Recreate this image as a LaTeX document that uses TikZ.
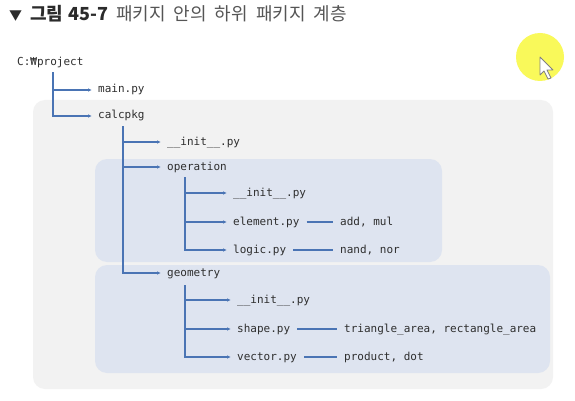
\documentclass[tikz,border=0pt]{standalone}
\usepackage{fontspec}
\setmonofont{DejaVu Sans Mono}
\newfontfamily\krfont{Noto Sans CJK KR}
\usetikzlibrary{arrows.meta,positioning}

\definecolor{treeblue}{HTML}{4A74B4}
\definecolor{textgray}{HTML}{2E2E2E}
\definecolor{titledark}{HTML}{2B2B2B}
\definecolor{titlegray}{HTML}{555555}
\definecolor{outerfill}{HTML}{F2F2F2}
\definecolor{panelfill}{HTML}{DEE4F0}
\definecolor{markyellow}{HTML}{F9F95A}

\newcommand{\titlegap}{\hspace{8pt}}

\tikzset{
  file/.style={anchor=west, inner sep=1pt, text=textgray,
    font=\ttfamily\fontsize{11}{13}\selectfont, text height=8pt, text depth=2pt},
  branch/.style={draw=treeblue, line width=1.2pt,
    -{Latex[length=4pt,width=3.5pt]}, shorten >=5pt},
  link/.style={draw=treeblue, line width=1.2pt, shorten <=6pt, shorten >=6pt},
  panel/.style={rounded corners=12pt}
}

\begin{document}
\begin{tikzpicture}[x=1pt, y=-1pt]
    \useasboundingbox (0,0) rectangle (575,401);
    \fill[white] (0,0) rectangle (575,401);

    % title
    \node[anchor=west, inner sep=0pt, font=\krfont\fontsize{18}{21}\selectfont] (title) at (9,14)
        {\textcolor{titledark}{\bfseries{\fontsize{13}{16}\selectfont▼}\titlegap 그림\hspace{5pt}45-7}\titlegap
         \textcolor{titlegray}{패키지\titlegap 안의\titlegap 하위\titlegap 패키지\titlegap 계층}};

    % package areas
    \fill[outerfill, panel] (33,100) rectangle (553,389);
    \fill[panelfill, panel] (95,159) rectangle (442,262);
    \fill[panelfill, panel] (95,265) rectangle (550,373);

    % tree
    \node[file] (root) at (16,63) {C:₩project};
    \node[file] (main) at (97,90) {main.py};
    \node[file] (calc) at (97,116) {calcpkg};
    \node[file] (cinit) at (166,142) {\_\_init\_\_.py};
    \node[file] (oper) at (166,167) {operation};
    \node[file] (geom) at (166,273) {geometry};

    \node[file] (oinit) at (232,193) {\_\_init\_\_.py};
    \node[file] (elem) at (232,222) {element.py};
    \node[file] (logic) at (232,250) {logic.py};
    \node[file] (elemf) at (339,222) {add, mul};
    \node[file] (logicf) at (339,250) {nand, nor};

    \node[file] (ginit) at (236,300) {\_\_init\_\_.py};
    \node[file] (shape) at (236,329) {shape.py};
    \node[file] (vect) at (236,357) {vector.py};
    \node[file] (shapef) at (343,329) {triangle\_area, rectangle\_area};
    \node[file] (vectf) at (343,357) {product, dot};

    \draw[branch] ([xshift=37pt,yshift=-3pt]root.south west) |- (main.west);
    \draw[branch] ([xshift=37pt,yshift=-3pt]root.south west) |- (calc.west);

    \draw[branch] ([xshift=26pt,yshift=-4pt]calc.south west) |- (cinit.west);
    \draw[branch] ([xshift=26pt,yshift=-4pt]calc.south west) |- (oper.west);
    \draw[branch] ([xshift=26pt,yshift=-4pt]calc.south west) |- (geom.west);

    \draw[branch] ([xshift=19pt,yshift=-4pt]oper.south west) |- (oinit.west);
    \draw[branch] ([xshift=19pt,yshift=-4pt]oper.south west) |- (elem.west);
    \draw[branch] ([xshift=19pt,yshift=-4pt]oper.south west) |- (logic.west);

    \draw[branch] ([xshift=19pt,yshift=-6pt]geom.south west) |- (ginit.west);
    \draw[branch] ([xshift=19pt,yshift=-6pt]geom.south west) |- (shape.west);
    \draw[branch] ([xshift=19pt,yshift=-6pt]geom.south west) |- (vect.west);

    \draw[link] (elem.east) -- (elemf.west);
    \draw[link] (logic.east) -- (logicf.west);
    \draw[link] (shape.east) -- (shapef.west);
    \draw[link] (vect.east) -- (vectf.west);

    % mouse pointer
    \fill[markyellow] (540,57) circle (24);
    \filldraw[fill=white, draw=gray, line width=0.8pt, line join=round]
        (540,57) -- (540,75) -- (544,71) -- (548,79) -- (551,78) -- (547,70) -- (553,70) -- cycle;
\end{tikzpicture}
\end{document}
